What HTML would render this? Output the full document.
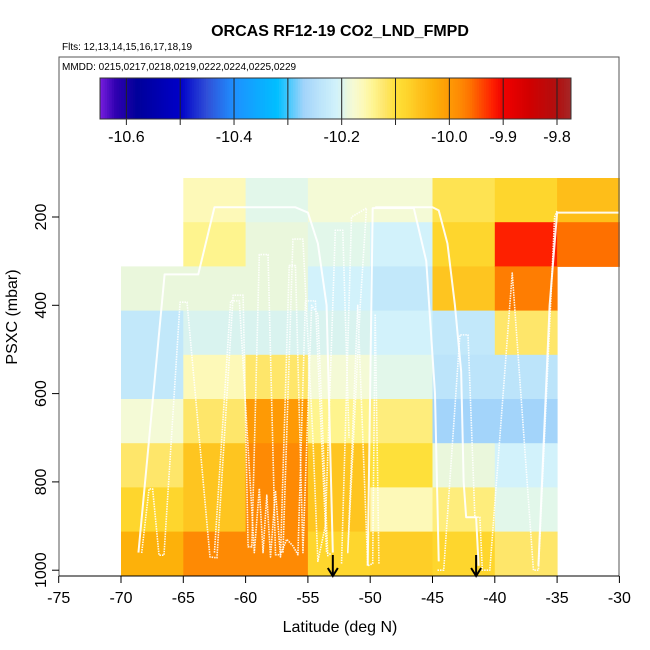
<!DOCTYPE html>
<html><head><meta charset="utf-8"><style>
body{margin:0;background:#fff}
svg{display:block;font-family:"Liberation Sans",Arial,sans-serif}
</style></head><body>
<svg id="chart" width="650" height="650" viewBox="0 0 650 650">
<g id="cells"></g>
<g id="tracks"></g>
<g id="cbar"></g>
<g id="axes"></g>
<text x="340" y="36" text-anchor="middle" font-size="16" font-weight="bold">ORCAS RF12-19 CO2_LND_FMPD</text>
<text x="62" y="50" font-size="10">Flts: 12,13,14,15,16,17,18,19</text>
<text x="62" y="70" font-size="10">MMDD: 0215,0217,0218,0219,0222,0224,0225,0229</text>
<text x="340" y="632" text-anchor="middle" font-size="16">Latitude (deg N)</text>
<text transform="translate(17,317) rotate(-90)" text-anchor="middle" font-size="16">PSXC (mbar)</text>
</svg>
<script>
// data
const latEdges=[-70,-65,-60,-55,-50,-45,-40,-35,-30];
const rowCount=9;
// values per column (top row to bottom row), null = no data
const col0=[null,null,-10.19,-10.23,-10.23,-10.18,-10.12,-10.08,-10.03];
const col1=[-10.16,-10.14,-10.19,-10.20,-10.16,-10.12,-10.06,-10.06,-9.98];
const col2=[-10.195,-10.19,-10.19,-10.20,-10.12,-10.00,-9.98,-9.98,-9.98];
const col3=[-10.18,-10.195,-10.21,-10.20,-10.18,-10.14,-10.06,-10.06,-10.08];
const col4=[-10.18,-10.21,-10.23,-10.21,-10.195,-10.13,-10.10,-10.16,-10.07];
const col5=[-10.11,-10.08,-10.06,-10.23,-10.24,-10.27,-10.19,-10.13,-10.08];
const col6=[-10.08,-9.92,-9.97,-10.12,-10.24,-10.27,-10.21,-10.195,-10.12];
const col7=[-10.05,-9.96,null,null,null,null,null,null,null];
const xTicks=[-75,-70,-65,-60,-55,-50,-45,-40,-35,-30];
const yTicks=[200,400,600,800,1000];
const cbTicks=[-10.6,-10.4,-10.2,-10.0,-9.9,-9.8];
const cbLabels=["-10.6","-10.4","-10.2","-10.0","-9.9","-9.8"];
const arrowLats=[-53,-41.5];
const solid1=[[-68.6,960],[-66.5,330],[-63.8,330],[-62.5,178],[-56,178],[-55,190],[-54.2,260],[-53.5,400],[-53,960]];
const solid2=[[-50.2,990],[-49.8,180],[-46.5,180],[-45.5,300],[-44.8,600],[-44.5,980]];
const solid3=[[-49.6,178],[-45,178],[-44.5,185],[-43.8,260],[-43.2,400],[-42.7,550],[-42.5,800],[-42.3,880],[-41.5,880],[-41.3,990]];
const solid4=[[-36.5,990],[-35.6,400],[-35,190],[-30,190]];
const dot1=[[-68.34,961],[-67.75,816],[-67.46,816],[-66.95,966],[-66.55,966],[-65.26,393],[-64.7,393],[-62.86,970],[-62.3,972],[-61,377],[-60.2,377],[-59.8,947],[-59.5,947],[-58.9,285],[-58.2,285],[-57.6,965],[-57.2,965],[-56.7,930],[-56.2,945],[-55.8,965],[-55.2,390],[-54.4,390],[-53.5,960],[-53.1,965]];
const dot2=[[-62.5,960],[-61.2,390],[-60.5,390],[-59.3,960],[-58.9,815],[-58.6,960],[-58.3,830],[-58,970],[-57.6,820],[-57.2,970],[-56.5,310],[-56,310],[-55.4,960],[-54.7,400],[-54.2,420],[-53.4,970]];
const dot3=[[-44.6,1000],[-44.1,1000],[-42.8,467],[-42.15,467],[-41.6,880],[-41.2,880],[-41,1000],[-40.4,1000],[-38.6,327],[-36.9,1000],[-36.5,1000],[-35.2,200],[-35,186]];
const dot4=[[-52.3,985],[-51.5,200],[-50.3,180],[-50.8,400],[-51.8,960],[-51,400],[-50.2,990],[-49.8,985],[-49.6,420],[-49.3,985]];
const dot5=[[-57,960],[-56.2,250],[-55.4,250],[-54.6,700],[-54.2,980],[-53.6,900],[-52.8,230],[-52.2,230],[-51.7,700]];

const NS="http://www.w3.org/2000/svg";
const X0=121,XS=12.46; // -70 at 121
function xs(lat){return X0+(lat+70)*XS;}
function ys(p){return 217+(p-200)*0.4415;}
const rowTop=178,rowH=44.2;
const stops=[[-10.65,"#7b1fe0"],[-10.62,"#3000b0"],[-10.58,"#00009a"],[-10.5,"#0000c8"],[-10.45,"#3050d8"],[-10.4,"#1e90ff"],[-10.32,"#00bfff"],[-10.27,"#a3d4fa"],[-10.24,"#bce4fa"],[-10.23,"#c2e8fa"],[-10.21,"#d2f2fb"],[-10.2,"#d9f3ef"],[-10.195,"#e2f7ea"],[-10.19,"#eaf7dc"],[-10.18,"#f4fad6"],[-10.16,"#fdf9b8"],[-10.14,"#fef48e"],[-10.12,"#fee66a"],[-10.1,"#fee03a"],[-10.08,"#fed62d"],[-10.06,"#fec520"],[-10.03,"#fdb10a"],[-10.0,"#fe9a05"],[-9.98,"#fe8a04"],[-9.96,"#fe7000"],[-9.92,"#fe2000"],[-9.9,"#f00000"],[-9.85,"#d00000"],[-9.8,"#b01010"],[-9.77,"#a52a2a"]];
function hex(c){return [1,3,5].map(i=>parseInt(c.substr(i,2),16));}
function color(v){
  if(v<=stops[0][0])return stops[0][1];
  for(let i=1;i<stops.length;i++){
    if(v<=stops[i][0]){const a=hex(stops[i-1][1]),b=hex(stops[i][1]);const t=(v-stops[i-1][0])/(stops[i][0]-stops[i-1][0]);
      return "rgb("+a.map((x,k)=>Math.round(x+(b[k]-x)*t)).join(",")+")";}
  }
  return stops[stops.length-1][1];
}
function mk(tag,attrs,parent){const e=document.createElementNS(NS,tag);for(const k in attrs)e.setAttribute(k,attrs[k]);parent.appendChild(e);return e;}

const cols=[col0,col1,col2,col3,col4,col5,col6,col7];
const gC=document.getElementById('cells');
cols.forEach((col,ci)=>{col.forEach((v,ri)=>{
  if(v===null)return;
  const x1=xs(latEdges[ci]),x2=xs(latEdges[ci+1]);
  const r=mk('rect',{x:x1,y:rowTop+ri*rowH,width:x2-x1+0.5,height:rowH+0.5,fill:color(v)},gC);
  
  
});});

const gT=document.getElementById('tracks');
function track(pts,dotted){
  const p=mk('polyline',{points:pts.map(d=>xs(d[0])+","+ys(d[1])).join(" "),fill:"none",stroke:"#fff","stroke-width":dotted?1.6:2,"stroke-opacity":0.92,"stroke-linejoin":"round"},gT);
  if(dotted)p.setAttribute('stroke-dasharray','1.5 1');
  
  
}
[solid1,solid2,solid3,solid4].forEach(t=>track(t,false));
[dot1,dot2,dot3,dot4,dot5].forEach(t=>track(t,true));
arrowLats.forEach(l=>{
  const g=mk('g',{},gT);
  
  
  const x=xs(l);
  mk('line',{x1:x,y1:555,x2:x,y2:575,stroke:"#000","stroke-width":2},g);
  mk('polyline',{points:(x-5)+",568 "+x+",576 "+(x+5)+",568",fill:"none",stroke:"#000","stroke-width":2},g);
});

// colorbar
const gB=document.getElementById('cbar');
const cbL=100,cbR=571,cbT=78,cbBt=119,vMin=-10.649,vMax=-9.774;
function cbx(v){return cbL+(v-vMin)/(vMax-vMin)*(cbR-cbL);}
for(let i=0;i<200;i++){
  const v1=vMin+(vMax-vMin)*i/200,v2=vMin+(vMax-vMin)*(i+1)/200;
  mk('rect',{x:cbx(v1),y:cbT,width:cbx(v2)-cbx(v1)+0.4,height:cbBt-cbT,fill:color((v1+v2)/2)},gB);
}
for(let v=-10.6;v<=-9.79;v+=0.1){
  const x=cbx(v);
  mk('line',{x1:x,y1:cbT,x2:x,y2:cbBt+6,stroke:"#222","stroke-width":1},gB);
}
mk('rect',{x:cbL,y:cbT,width:cbR-cbL,height:cbBt-cbT,fill:"none",stroke:"#333","stroke-width":1},gB);
cbTicks.forEach((v,i)=>{
  const t=mk('text',{x:cbx(v),y:142,"text-anchor":"middle","font-size":16},gB);
  t.textContent=cbLabels[i];
  
  
});

// axes
const gA=document.getElementById('axes');
const fr=mk('rect',{x:59,y:57,width:560,height:519,fill:"none",stroke:"#555","stroke-width":1},gA);


mk('line',{x1:59,y1:576,x2:619,y2:576,stroke:"#000","stroke-width":1},gA);
xTicks.forEach(v=>{
  const x=xs(v);
  mk('line',{x1:x,y1:576,x2:x,y2:583,stroke:"#000"},gA);
  const t=mk('text',{x:x,y:603,"text-anchor":"middle","font-size":16},gA);
  t.textContent=v;
  
  
});
yTicks.forEach(v=>{
  const y=ys(v);
  mk('line',{x1:52,y1:y,x2:59,y2:y,stroke:"#000"},gA);
  const t=mk('text',{transform:"translate(46,"+y+") rotate(-90)","text-anchor":"middle","font-size":16},gA);
  t.textContent=v;
  
  
});
</script>
</body></html>
